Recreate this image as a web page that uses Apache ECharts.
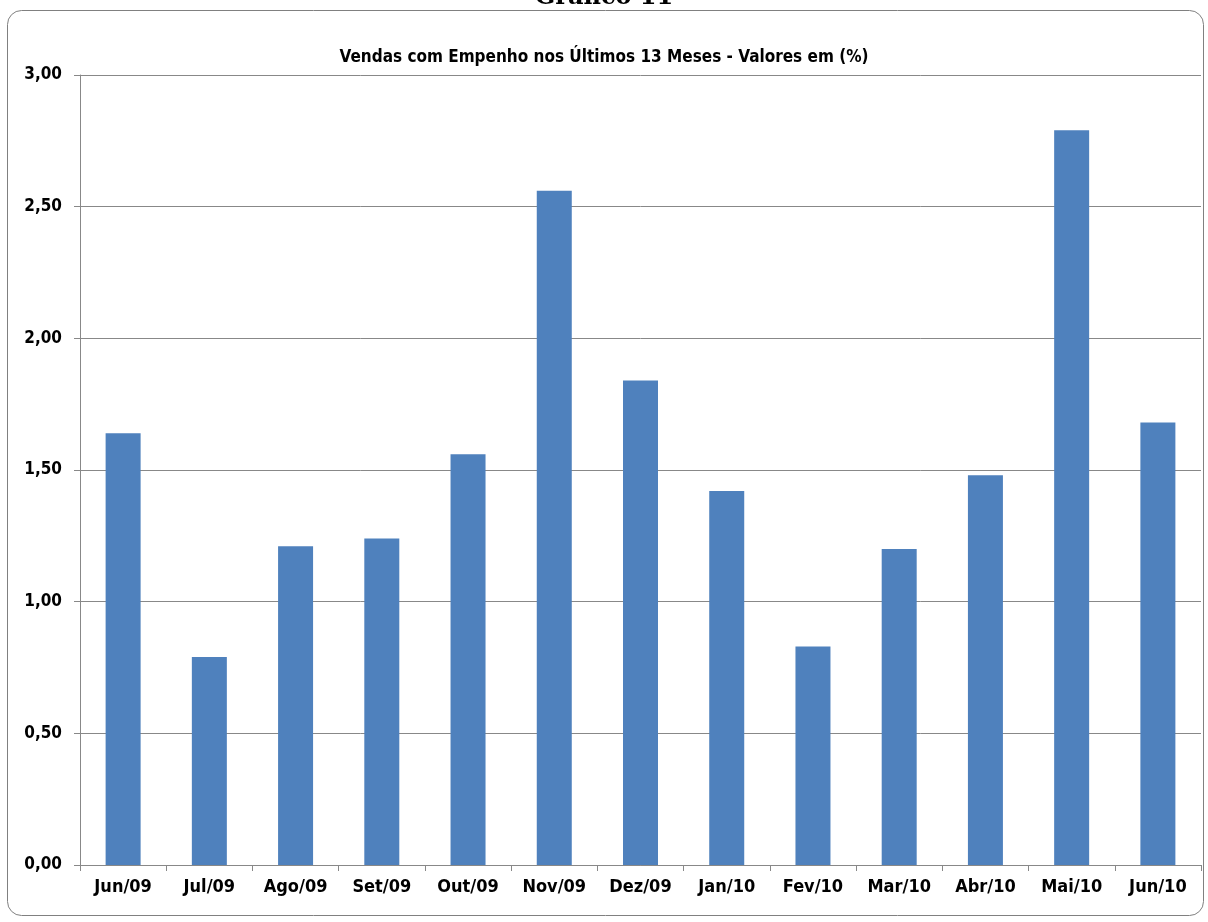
<!DOCTYPE html>
<html>
<head>
<meta charset="utf-8">
<script src="https://cdn.jsdelivr.net/npm/echarts@6/dist/echarts.min.js"></script>
<style>
  html, body { margin: 0; padding: 0; background: #fff; }
  #chart { width: 1208px; height: 922px; }
</style>
</head>
<body>
<div id="chart"></div>
<script>
// dados
const months = ["Jun/09", "Jul/09", "Ago/09", "Set/09", "Out/09", "Nov/09", "Dez/09",
  "Jan/10", "Fev/10", "Mar/10", "Abr/10", "Mai/10", "Jun/10"];
const salesPct = [1.64, 0.79, 1.21, 1.24, 1.56, 2.56, 1.84, 1.42, 0.83, 1.20, 1.48, 2.79, 1.68];

const FONT = "'Liberation Sans Narrow', 'DejaVu Sans Condensed', 'Open Sans', sans-serif";

const chart = echarts.init(document.getElementById("chart"), null, { renderer: "canvas" });

chart.setOption({
  backgroundColor: "#fff",
  animation: false,
  graphic: [
    {
      type: "rect",
      shape: { x: 7.5, y: 10.5, width: 1196, height: 905, r: 14 },
      style: { fill: "none", stroke: "#808080", lineWidth: 1 },
      z: -1
    },
    {
      type: "text",
      left: "center",
      top: -14,
      style: { text: "Gráfico 11", font: "bold 24px 'DejaVu Serif', serif", fill: "#000" }
    }
  ],
  title: {
    text: "Vendas com Empenho nos Últimos 13 Meses - Valores em (%)",
    left: "center",
    top: 44,
    textStyle: { fontFamily: FONT, fontWeight: "bold", fontSize: 17, color: "#000" }
  },
  grid: { left: 80, right: 7, top: 75, bottom: 57, containLabel: false },
  xAxis: {
    type: "category",
    data: months,
    axisLine: { lineStyle: { color: "#888", width: 1 } },
    axisTick: { show: true, length: 6, alignWithLabel: false, lineStyle: { color: "#888" } },
    axisLabel: { interval: 0, margin: 13, fontFamily: FONT, fontWeight: "bold", fontSize: 18, color: "#000" }
  },
  yAxis: {
    type: "value",
    min: 0,
    max: 3,
    interval: 0.5,
    axisLine: { show: true, lineStyle: { color: "#888", width: 1 } },
    axisTick: { show: true, length: 6, lineStyle: { color: "#888" } },
    splitLine: { lineStyle: { color: "#888", width: 1 } },
    axisLabel: {
      margin: 18,
      fontFamily: FONT, fontWeight: "bold", fontSize: 17, color: "#000",
      formatter: v => v.toFixed(2).replace(".", ",")
    }
  },
  series: [{
    type: "bar",
    data: salesPct,
    barWidth: 35,
    itemStyle: { color: "#4f81bd" }
  }]
});
</script>
</body>
</html>
